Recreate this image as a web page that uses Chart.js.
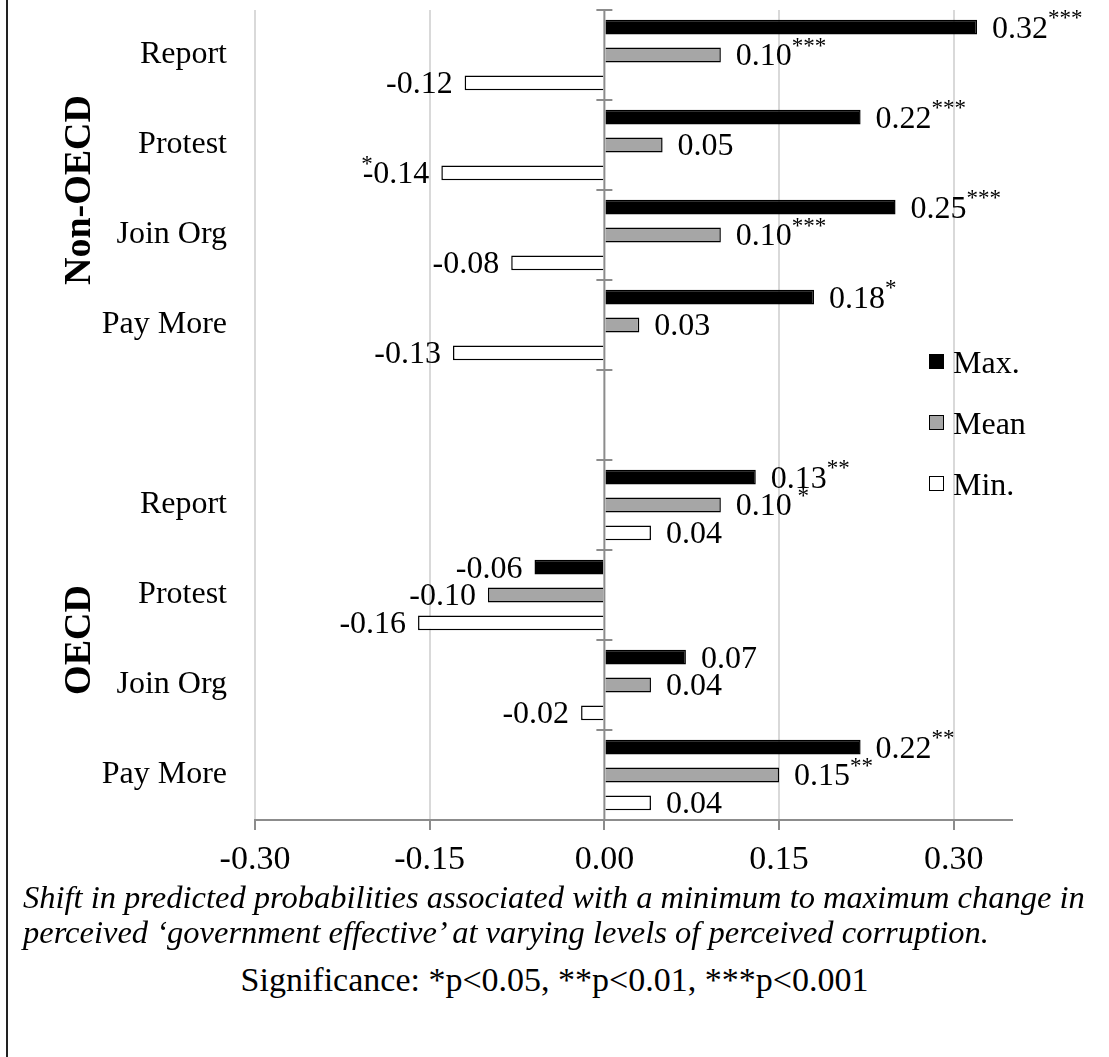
<!DOCTYPE html>
<html>
<head>
<meta charset="utf-8">
<script src="https://cdn.jsdelivr.net/npm/chart.js@4.4.1/dist/chart.umd.min.js"></script>
<style>
  html, body { margin: 0; padding: 0; background: #fff; }
  #page { position: relative; width: 1109px; height: 1057px; overflow: hidden; font-family: "Liberation Serif", "Times New Roman", serif; color: #000; }
  #frame { position: absolute; left: 6px; top: 0; width: 2px; height: 1057px; background: #222; }
  #chartBox { position: absolute; left: 0; top: 0; width: 1109px; height: 880px; }
  .legItem { position: absolute; left: 929px; height: 34px; line-height: 34px; font-size: 32px; white-space: nowrap; }
  .legSw { position: absolute; left: 0; top: 9px; width: 13px; height: 13px; border: 1.5px solid #000; }
  .legTx { position: absolute; left: 24px; top: 0; }
  #cap1, #cap2 { position: absolute; left: 23px; font-size: 32.5px; line-height: 36px; font-style: italic; white-space: nowrap; }
  #cap1 { top: 879px; }
  #cap2 { top: 914px; }
  #sig { position: absolute; left: 0; width: 1109px; text-align: center; top: 961px; font-size: 34px; line-height: 38px; }
</style>
</head>
<body>
<div id="page">
  <div id="frame"></div>
  <div id="chartBox"><canvas id="c" width="1109" height="880" style="width:1109px;height:880px"></canvas></div>
  <div id="legend"></div>
  <div id="cap1">Shift in predicted probabilities associated with a minimum to maximum change in</div>
  <div id="cap2">perceived ‘government effective’ at varying levels of perceived corruption.</div>
  <div id="sig">Significance: *p&lt;0.05, **p&lt;0.01, ***p&lt;0.001</div>
</div>
<script>
// ---- data ----
const categories = ['Report', 'Protest', 'Join Org', 'Pay More', '', 'Report', 'Protest', 'Join Org', 'Pay More'];
const groups = ['Non-OECD', 'OECD'];
const groupRanges = [[0, 3], [5, 8]];
const seriesNames = ['Max.', 'Mean', 'Min.'];
const maxVals  = [0.32, 0.22, 0.25, 0.18, null, 0.13, -0.06, 0.07, 0.22];
const meanVals = [0.10, 0.05, 0.10, 0.03, null, 0.10, -0.10, 0.04, 0.15];
const minVals  = [-0.12, -0.14, -0.08, -0.13, null, 0.04, -0.16, -0.02, 0.04];
const maxSig   = ['***', '***', '***', '*', '', '**', '', '', '**'];
const meanSig  = ['***', '', '***', '', '', ' *', '', '', '**'];
const minSig   = ['', '*', '', '', '', '', '', '', ''];
const xTicks = [-0.30, -0.15, 0.00, 0.15, 0.30];
const xMin = -0.30, xMax = 0.35;

const FONT = '"Liberation Serif", "Times New Roman", serif';
const colors = ['#000000', '#a6a6a6', '#ffffff'];
const sigs = [maxSig, meanSig, minSig];

// legend (HTML)
const legTops = [345, 406, 467];
const legend = document.getElementById('legend');
seriesNames.forEach((n, i) => {
  const d = document.createElement('div');
  d.className = 'legItem';
  d.style.top = legTops[i] + 'px';
  d.innerHTML = '<div class="legSw" style="background:' + colors[i] + '"></div><div class="legTx">' + n + '</div>';
  legend.appendChild(d);
});

const overlay = {
  id: 'overlay',
  afterDatasetsDraw(chart) {
    const ctx = chart.ctx;
    const xs = chart.scales.x, ys = chart.scales.y;
    const area = chart.chartArea;
    const x0 = xs.getPixelForValue(0);
    const step = ys.getPixelForValue(1) - ys.getPixelForValue(0);
    ctx.save();
    ctx.strokeStyle = '#8c8c8c';
    ctx.lineWidth = 2;
    ctx.beginPath();
    ctx.moveTo(x0, area.top);
    ctx.lineTo(x0, area.bottom);
    for (let i = 0; i <= categories.length; i++) {
      const y = ys.getPixelForValue(i) - step / 2;
      ctx.moveTo(x0 - 8, y);
      ctx.lineTo(x0 + 8, y);
    }
    ctx.stroke();
    // value labels
    chart.data.datasets.forEach((ds, di) => {
      const meta = chart.getDatasetMeta(di);
      meta.data.forEach((el, i) => {
        const v = ds.data[i];
        if (v === null || v === undefined) return;
        const txt = v.toFixed(2);
        const s = sigs[di][i];
        ctx.fillStyle = '#000';
        ctx.textBaseline = 'middle';
        ctx.font = '32px ' + FONT;
        if (v >= 0) {
          const tx = el.x + 15;
          ctx.textAlign = 'left';
          ctx.fillText(txt, tx, el.y + 2);
          if (s) {
            const w = ctx.measureText(txt).width;
            ctx.font = '23px ' + FONT;
            ctx.fillText(s, tx + w, el.y - 8);
          }
        } else {
          const tx = el.x - 12;
          ctx.textAlign = 'right';
          ctx.fillText(txt, tx, el.y + 2);
          if (s) {
            const w = ctx.measureText(txt).width;
            ctx.font = '23px ' + FONT;
            ctx.fillText(s, tx - w + 10, el.y - 8);
          }
        }
      });
    });
    // group labels
    ctx.font = 'bold 38px ' + FONT;
    ctx.textAlign = 'center';
    ctx.textBaseline = 'middle';
    groups.forEach((g, gi) => {
      const [a, b] = groupRanges[gi];
      const yc = (ys.getPixelForValue(a) + ys.getPixelForValue(b)) / 2;
      ctx.save();
      ctx.translate(80, yc);
      ctx.rotate(-Math.PI / 2);
      ctx.fillText(g, 0, 0);
      ctx.restore();
    });
    ctx.restore();
  }
};

new Chart(document.getElementById('c'), {
  type: 'bar',
  data: {
    labels: categories,
    datasets: [
      { label: seriesNames[0], data: maxVals, backgroundColor: colors[0], borderColor: '#000', borderWidth: 1.5 },
      { label: seriesNames[1], data: meanVals, backgroundColor: colors[1], borderColor: '#000', borderWidth: 1.5 },
      { label: seriesNames[2], data: minVals, backgroundColor: colors[2], borderColor: '#000', borderWidth: 1.5 }
    ]
  },
  options: {
    indexAxis: 'y',
    responsive: false,
    animation: false,
    devicePixelRatio: 1,
    categoryPercentage: 0.93,
    barPercentage: 0.53,
    layout: { padding: { top: 10, right: 97, bottom: 0, left: 0 } },
    plugins: { legend: { display: false }, tooltip: { enabled: false } },
    scales: {
      y: {
        type: 'category',
        offset: true,
        grid: { display: false, drawTicks: false },
        border: { display: false },
        ticks: { color: '#000', font: { family: FONT, size: 32 }, padding: 28 },
        afterFit(scale) { scale.width = 255; scale.paddingTop = 0; scale.paddingBottom = 0; }
      },
      x: {
        type: 'linear',
        min: xMin,
        max: xMax,
        afterBuildTicks(scale) { scale.ticks = xTicks.map(v => ({ value: v })); },
        afterFit(scale) { scale.height = 60; scale.paddingLeft = 0; scale.paddingRight = 0; },
        grid: {
          color: (c) => (c.tick && Math.abs(c.tick.value) < 1e-9) ? 'rgba(0,0,0,0)' : '#d9d9d9',
          lineWidth: 2,
          tickColor: '#8c8c8c',
          tickLength: 10
        },
        border: { display: true, color: '#8c8c8c', width: 2 },
        ticks: {
          color: '#000',
          font: { family: FONT, size: 34 },
          padding: 10,
          callback: (v) => Number(v).toFixed(2)
        }
      }
    }
  },
  plugins: [overlay]
});
</script>
</body>
</html>
